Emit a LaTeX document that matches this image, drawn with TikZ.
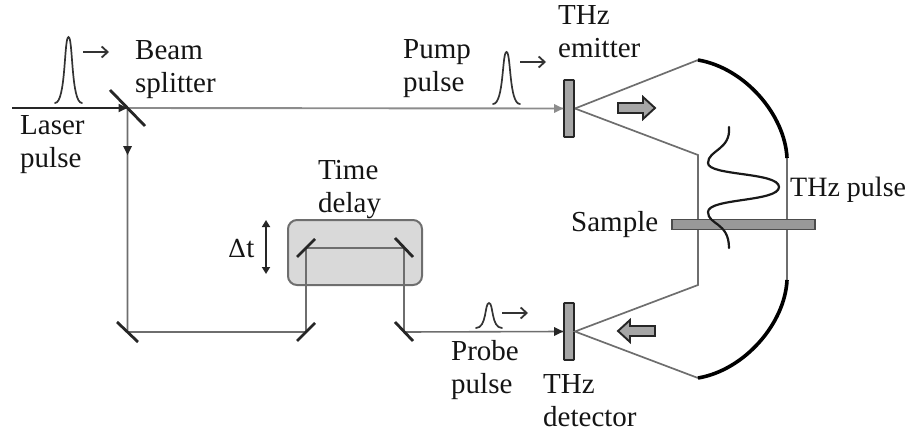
\documentclass[tikz,border=0pt]{standalone}
\usepackage{fontspec}
\setmainfont{Liberation Serif}
\newfontfamily\symfont{DejaVu Serif}
\usetikzlibrary{arrows.meta}
\definecolor{beamgray}{HTML}{8C8C8C}
\definecolor{linegray}{HTML}{6E6E6E}
\definecolor{fillgray}{HTML}{A6A6A6}
\tikzset{
 lbl/.style={anchor=base west,inner sep=0pt,align=left,text=black!92,font=\fontsize{29}{33}\selectfont},
 beam/.style={draw=linegray,line width=1.6pt},
 thzline/.style={draw=linegray,line width=1.7pt},
 mirror/.style={draw=black!85,line width=2.8pt},
 smallarrow/.style={draw=black!80,line width=1.8pt,-{Straight Barb[length=6pt,width=11pt,line width=1.8pt]}},
 pulsecurve/.style={draw=black!80,line width=1.7pt,line cap=round},
 plate/.style={draw=black!85,fill=fillgray,line width=1.9pt,rounded corners=0.8pt,minimum width=10pt,minimum height=57pt,inner sep=0pt},
 mirrorarc/.style={draw=black,line width=3.6pt},
 blockarrow/.style={draw=black!85,fill=fillgray,line width=1.9pt,line join=miter},
}
\newcommand{\gausspulse}[5]{\draw[pulsecurve] (#1,#4) .. controls (#1+11,#4) and (#3-4.5,#5) .. (#3,#5) .. controls (#3+4.5,#5) and (#2-11,#4) .. (#2,#4);}
\begin{document}
\begin{tikzpicture}[x=1pt,y=-1pt]
\useasboundingbox (0,0) rectangle (909,433);
% box
\node[draw=linegray,fill=black!15,line width=2pt,rounded corners=9pt,minimum width=134pt,minimum height=65pt,inner sep=0pt] (box) at (355,252.5) {};
% junctions
\coordinate (laser) at (12,108);
\coordinate (bs) at (127.5,108);
\coordinate (m1) at (127.5,332);
\coordinate (m2) at (306,332);
\coordinate (m3) at (306,248);
\coordinate (m4) at (404,248);
\coordinate (m5) at (404,332);
\coordinate (down) at (127.5,155);
\coordinate (tl) at (698,60);
\coordinate (tr) at (787,158);
\coordinate (il) at (698,155);
\coordinate (jl) at (698,285);
\coordinate (br) at (787,280);
\coordinate (bl) at (698,378);
% plates
\node[plate] (emitter) at (569,108.5) {};
\node[plate] (detector) at (569,331.5) {};
% beams
\draw[draw=beamgray,line width=1.9pt] (bs) -- (emitter.west);
\fill[beamgray] (emitter.west) -- ++(-9,-4.5) -- ++(0,9) -- cycle;
\draw[draw=black!85,line width=1.9pt,-{Triangle[length=9pt,width=8pt]}] (laser) -- (bs);
\draw[beam] (bs) -- (m1) -- (m2) -- (m3) -- (m4) -- (m5) -- (detector.west);
\fill[black!85] (detector.west) -- ++(-9,-4.5) -- ++(0,9) -- cycle;
\fill[black!85] (down) -- ++(-4.5,-9) -- ++(9,0) -- cycle;
% THz path
\draw[thzline] (emitter.east) -- (tl);
\draw[thzline] (emitter.east) -- (il) -- (jl) -- (detector.east) -- (bl);
\draw[thzline] (tr) -- (br);
\draw[mirrorarc] (tl) .. controls (745,68) and (785,115) .. (tr);
\draw[mirrorarc] (bl) .. controls (745,370) and (785,323) .. (br);
% mirrors
\draw[mirror] (110,90) -- (145,126);
\draw[mirror] (117,322) -- (138,342);
\draw[mirror] (297,341) -- (315,323);
\draw[mirror] (297,257) -- (315,239);
\draw[mirror] (395,238) -- (413,257);
\draw[mirror] (395,322) -- (413,341);
% sample
\node[draw=black!70,fill=black!40,line width=1.6pt,minimum width=143pt,minimum height=10pt,inner sep=0pt] (sample) at (743.5,224.5) {};
% THz wave
\draw[draw=black!90,line width=2.2pt,line cap=round] (729,127) .. controls (731,150) and (708,150) .. (708,163)
 .. controls (708,176) and (779,172) .. (779,187)
 .. controls (779,202) and (708,198) .. (708,212)
 .. controls (708,225) and (729,222) .. (729,248);
% pulses
\gausspulse{55}{82}{68.5}{103}{37}
\gausspulse{493}{520}{506.5}{104}{52}
\gausspulse{476}{502}{489}{328}{303}
\coordinate (a1) at (83,52); \coordinate (a2) at (109,52);
\coordinate (b1) at (520,62); \coordinate (b2) at (546,62);
\coordinate (c1) at (502,313); \coordinate (c2) at (528,313);
\draw[smallarrow] (a1) -- (a2);
\draw[smallarrow] (b1) -- (b2);
\draw[smallarrow] (c1) -- (c2);
% block arrows
\draw[blockarrow] (618,103) -- (643,103) -- (643,97) -- (655,108) -- (643,119) -- (643,113) -- (618,113) -- cycle;
\draw[blockarrow] (655,326) -- (630,326) -- (630,320) -- (618,331) -- (630,342) -- (630,336) -- (655,336) -- cycle;
% delta t
\coordinate (dt1) at (266,220); \coordinate (dt2) at (266,274);
\draw[draw=black!85,line width=1.7pt,{Triangle[length=7pt,width=8pt]}-{Triangle[length=7pt,width=8pt]}] (dt1) -- (dt2);
% labels
\node[lbl] (tbeam) at (135,93) {Beam\\splitter};
\node[lbl] (tlaser) at (20,167) {Laser\\pulse};
\node[lbl] (tpump) at (403,92) {Pump\\pulse};
\node[lbl] (temit) at (558,58) {THz\\emitter};
\node[lbl] (tdelay) at (318,212) {Time\\delay};
\node[lbl] (tsample) at (571,231) {Sample};
\node[lbl,font=\fontsize{28}{33}\selectfont] (tthz) at (790,196) {THz pulse};
\node[lbl] (tprobe) at (451,393) {Probe\\pulse};
\node[lbl] (tdet) at (543,426) {THz\\detector};
\node[lbl] (tdt) at (228,257) {{\symfont\fontsize{25}{30}\selectfont Δ}t};
\end{tikzpicture}
\end{document}
